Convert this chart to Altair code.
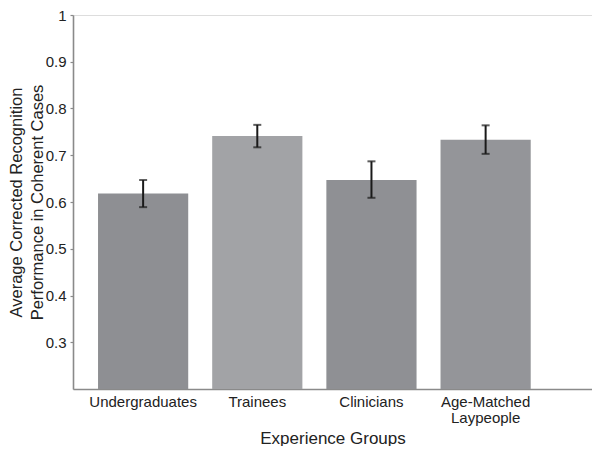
import altair as alt
import pandas as pd

groups = ["Undergraduates", "Trainees", "Clinicians", "Age-Matched Laypeople"]
means = [0.618, 0.741, 0.647, 0.733]
lower = [0.589, 0.717, 0.609, 0.703]
upper = [0.647, 0.765, 0.687, 0.764]
colors = ["#8e8f93", "#a2a3a6", "#8f9094", "#949599"]
y_ticks = [0.3, 0.4, 0.5, 0.6, 0.7, 0.8, 0.9, 1.0]

df = pd.DataFrame({"group": groups, "mean": means, "lower": lower,
                   "upper": upper, "color": colors})

FONT = "Liberation Sans"
TXT = "#222222"
AX = "#8a8a8a"

x = alt.X(
    "group:N", sort=groups,
    scale=alt.Scale(paddingInner=0.21, paddingOuter=0.378, align=0.29),
    axis=alt.Axis(
        title="Experience Groups", labelAngle=0, ticks=False,
        domainColor=AX, domainWidth=1.6, labelFont=FONT, labelFontSize=15,
        labelColor=TXT, labelPadding=5, labelLineHeight=16,
        labelExpr="datum.value == 'Age-Matched Laypeople' ? ['Age-Matched', 'Laypeople'] : datum.value",
        titleFont=FONT, titleFontSize=17, titleFontWeight="normal",
        titleColor=TXT, titlePadding=5,
    ),
)

y_scale = alt.Scale(domain=[0.2, 1.0], nice=False, zero=False)

bars = alt.Chart(df).mark_bar().encode(
    x=x,
    y=alt.Y(
        "mean:Q", scale=y_scale,
        axis=alt.Axis(
            title=["Average Corrected Recognition", "Performance in Coherent Cases"],
            values=y_ticks, format="~g", grid=False,
            tickSize=3, tickColor=AX, tickWidth=1.2,
            domainColor=AX, domainWidth=1.6,
            labelFont=FONT, labelFontSize=15, labelColor=TXT, labelPadding=4,
            titleFont=FONT, titleFontSize=16.5, titleFontWeight="normal",
            titleColor=TXT, titlePadding=0, titleLineHeight=21,
        ),
    ),
    y2=alt.datum(0.2),
    color=alt.Color("color:N", scale=None),
)

rules = alt.Chart(df).mark_rule(color="#1a1a1a", strokeWidth=2).encode(
    x=alt.X("group:N", sort=groups),
    y=alt.Y("lower:Q", scale=y_scale),
    y2="upper:Q",
)

cap_lo = alt.Chart(df).mark_tick(color="#1a1a1a", size=8, thickness=2, orient="horizontal").encode(
    x=alt.X("group:N", sort=groups),
    y=alt.Y("lower:Q", scale=y_scale),
)
cap_hi = alt.Chart(df).mark_tick(color="#1a1a1a", size=8, thickness=2, orient="horizontal").encode(
    x=alt.X("group:N", sort=groups),
    y=alt.Y("upper:Q", scale=y_scale),
)

chart = alt.layer(bars, rules, cap_lo, cap_hi).properties(
    width=519, height=374,
    autosize=alt.AutoSizeParams(type="none"),
    padding={"left": 65, "top": 7, "right": 0, "bottom": 57},
).configure_view(stroke=None).configure(background="white")

chart.save("out.html", embed_options={"renderer": "svg", "actions": False})
